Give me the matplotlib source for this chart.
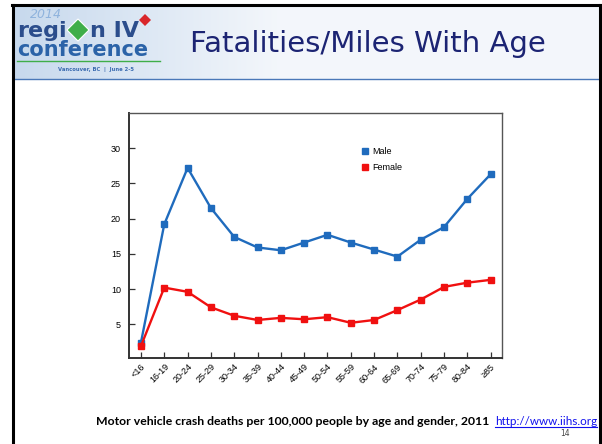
import numpy as np
import matplotlib
matplotlib.use('Agg')
import matplotlib.pyplot as plt
from matplotlib.lines import Line2D
from matplotlib.patches import Polygon

age_groups = ['<16', '16-19', '20-24', '25-29', '30-34', '35-39', '40-44', '45-49',
              '50-54', '55-59', '60-64', '65-69', '70-74', '75-79', '80-84', '≥85']
male = [2.4, 19.2, 27.2, 21.5, 17.4, 15.9, 15.5, 16.6, 17.7, 16.6, 15.6, 14.6, 17.0, 18.8, 22.8, 26.3]
female = [1.9, 10.2, 9.6, 7.4, 6.2, 5.6, 5.9, 5.7, 6.0, 5.2, 5.6, 7.0, 8.5, 10.3, 10.9, 11.3]
y_ticks = [5, 10, 15, 20, 25, 30]

title = 'Fatalities/Miles With Age'
caption = 'Motor vehicle crash deaths per 100,000 people by age and gender, 2011'
url = 'http://www.iihs.org'

male_color = '#1f6bbd'
female_color = '#f01010'

fig = plt.figure(figsize=(6.02, 4.44), dpi=100)

# slide decorations, in pixel coordinates
bg = fig.add_axes([0, 0, 1, 1], zorder=0)
bg.set_xlim(0, 602)
bg.set_ylim(444, 0)
bg.axis('off')
grad = np.linspace(0, 1, 256).reshape(1, -1)
grad = np.clip(grad * 2.2, 0, 1)
c0 = np.array([0.78, 0.85, 0.93])
c1 = np.array([0.955, 0.968, 0.985])
img = c0[None, None, :] * (1 - grad[..., None]) + c1[None, None, :] * grad[..., None]
bg.imshow(img, extent=(13, 600, 79, 6), aspect='auto', zorder=1)
bg.plot([13, 600], [79.5, 79.5], color='#4a78b8', lw=1.0, zorder=3)
bg.plot([12, 601], [5.5, 5.5], color='black', lw=2.2, zorder=4)
bg.plot([13, 13], [5, 444], color='black', lw=2.2, zorder=4)
bg.plot([599.5, 599.5], [5, 444], color='black', lw=2.2, zorder=4)

# logo
bg.text(30, 14, '2014', fontsize=9, style='italic', color='#8fb3dd', ha='left', va='center', zorder=5)
bg.text(17, 31, 'regi', fontsize=16, fontweight='bold', color='#2b4d8c',
        family='DejaVu Sans', ha='left', va='center', zorder=5)
bg.text(90, 31, 'n IV', fontsize=16, fontweight='bold', color='#2b4d8c',
        family='DejaVu Sans', ha='left', va='center', zorder=5)
bg.text(17, 50, 'conference', fontsize=15, fontweight='bold', color='#2b63a8',
        family='DejaVu Sans', ha='left', va='center', zorder=5)
bg.add_patch(Polygon([[78, 19], [89, 30], [78, 41], [67, 30]], closed=True,
                     facecolor='#3fae49', edgecolor='white', lw=0.8, zorder=6))
bg.add_patch(Polygon([[139, 20], [145, 14], [151, 20], [145, 26]], closed=True,
                     facecolor='#d9262a', edgecolor='none', zorder=6))
bg.plot([17, 160], [61, 61], color='#3fae49', lw=1.0, zorder=5)
bg.text(58, 69, 'Vancouver, BC  |  June 2-5', fontsize=3.8, fontweight='bold',
        color='#3c6cb0', ha='left', va='center', zorder=5)

bg.text(190, 44, title, fontsize=21, color='#1c2473', family='DejaVu Sans',
        ha='left', va='center', zorder=5)

bg.text(489, 421, caption, fontsize=8.8, fontweight='bold', color='black',
        family='Lato', ha='right', va='center', zorder=5)
bg.text(597, 421, url, fontsize=8.4, color='#1010ee', family='Lato',
        ha='right', va='center', zorder=5)
bg.plot([495, 597], [427, 427], color='#1010ee', lw=0.8, zorder=5)
bg.text(565, 433, '14', fontsize=5.5, color='#444444', ha='center', va='center', zorder=5)

# chart
ax = fig.add_axes([0.2148, 0.1937, 0.6196, 0.5518], zorder=2)
x = np.arange(len(age_groups))
ax.plot(x, male, color=male_color, lw=1.7, marker='s', markersize=4.8, label='Male')
ax.plot(x, female, color=female_color, lw=1.7, marker='s', markersize=4.8, label='Female')

ax.set_xlim(-0.5, len(age_groups) - 0.5)
ax.set_ylim(0.2, 35)
ax.set_xticks(x)
ax.set_xticklabels(age_groups, rotation=45, ha='right', rotation_mode='anchor',
                   fontsize=6.5, family='Liberation Sans')
ax.set_yticks(y_ticks)
ax.set_yticklabels([str(t) for t in y_ticks], fontsize=6.5, family='Liberation Sans')
ax.tick_params(axis='both', direction='in', length=4, width=0.9, color='#333333', pad=3)
ax.tick_params(axis='y', pad=6)
for side in ['left', 'bottom']:
    ax.spines[side].set_linewidth(1.4)
    ax.spines[side].set_color('#333333')
for side in ['top', 'right']:
    ax.spines[side].set_linewidth(1.0)
    ax.spines[side].set_color('#555555')

handles = [Line2D([], [], color=male_color, marker='s', markersize=4, linestyle='none'),
           Line2D([], [], color=female_color, marker='s', markersize=4, linestyle='none')]
ax.legend(handles, ['Male', 'Female'], loc='upper left', bbox_to_anchor=(0.6, 0.895),
          frameon=False, handlelength=0.8, handletextpad=0.4,
          labelspacing=0.8, prop={'family': 'Liberation Sans', 'size': 6.5})

fig.savefig('out.png', dpi=100)
